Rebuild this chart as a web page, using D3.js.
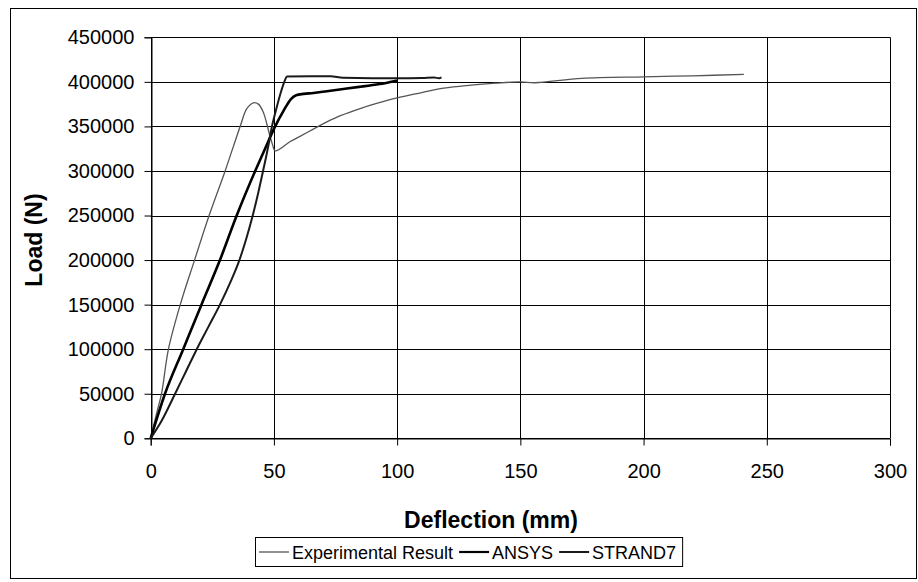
<!DOCTYPE html>
<html><head><meta charset="utf-8">
<script src="https://cdn.jsdelivr.net/npm/d3@7"></script>
<style>
html,body{margin:0;padding:0;background:#fff;}
svg{display:block;font-family:"Liberation Sans",Arial,sans-serif;}
</style></head>
<body><svg id="c" width="918" height="582"></svg>
<script>
// Data
const seriesNames = ["Experimental Result", "ANSYS", "STRAND7"];
const expDeflection = [0,2.4,4.4,7.2,12,17.8,23.7,30.2,36.3,39,41.7,43.7,45.7,47.1,48.5,49.5,50.5,56.6,60,66,71.5,77,85,92,100,110,117.5,127,140,150,156,175,200,220,240.7];
const expLoad = [0,28000,50000,100000,150000,200000,250000,300000,350000,370000,376500,375000,366000,353000,338000,329000,322500,333000,338000,347000,355000,362000,370000,376000,382000,388000,392500,395500,398500,400000,399000,404000,405700,406800,408400];
const ansysDeflection = [0,5.8,13.2,20.6,28.1,34.9,42.4,46.4,50.5,54,57,59,62,66,71.5,79.6,85,89,95,100.3];
const ansysLoad = [0,50000,100000,150000,200000,250000,300000,325000,350000,368000,381000,385000,386500,387500,389500,392500,394500,396000,398500,401500];
const strandDeflection = [0,4.5,9.9,14.3,18.7,23.4,28.1,32.3,36,38.9,41.4,43.6,45.6,47.5,49.2,51,53,54.5,55.3,65,73,78,90,100,110,115,117,118];
const strandLoad = [0,20000,50000,75000,100000,125000,150000,175000,200000,225000,250000,275000,300000,325000,350000,370000,390000,402000,406000,406300,406300,404500,404000,404000,404300,405000,404000,405000];
const xTicks = [0,50,100,150,200,250,300];
const yTicks = [0,50000,100000,150000,200000,250000,300000,350000,400000,450000];
const xTitle = "Deflection (mm)";
const yTitle = "Load (N)";

const svg = d3.select("#c");
const L = 150.7, R = 890, T = 37.3, B = 438.3;
const x = d3.scaleLinear().domain([0,300]).range([L,R]);
const y = d3.scaleLinear().domain([0,450000]).range([B,T]);

// outer border
svg.append("rect").attr("x",10.5).attr("y",8.5).attr("width",906).attr("height",570)
  .attr("fill","none").attr("stroke","#000").attr("stroke-width",1);

// gridlines
svg.append("g").selectAll("line").data(yTicks).join("line")
  .attr("x1",L).attr("x2",R).attr("y1",d=>Math.round(y(d))+0.5).attr("y2",d=>Math.round(y(d))+0.5)
  .attr("stroke","#000").attr("stroke-width",1);
svg.append("g").selectAll("line").data(xTicks).join("line")
  .attr("y1",T).attr("y2",B).attr("x1",d=>Math.round(x(d))+0.5).attr("x2",d=>Math.round(x(d))+0.5)
  .attr("stroke","#000").attr("stroke-width",1);

// axes
const yAxis = d3.axisLeft(y).tickValues(yTicks).tickSize(7).tickPadding(10).tickFormat(d3.format("d"));
const xAxis = d3.axisBottom(x).tickValues(xTicks).tickSize(7).tickPadding(18).tickFormat(d3.format("d"));
const gy = svg.append("g").attr("transform",`translate(${Math.round(L)+0.5},0)`).call(yAxis);
const gx = svg.append("g").attr("transform",`translate(0,${Math.round(B)+0.5})`).call(xAxis);
[gx,gy].forEach(g=>{
  g.select(".domain").attr("stroke","#000");
  g.selectAll(".tick line").attr("stroke","#000");
  g.selectAll("text").attr("font-size",20).attr("fill","#000").attr("font-family","Liberation Sans, Arial, sans-serif");
});

// titles
svg.append("text").attr("x",491).attr("y",528).attr("text-anchor","middle")
  .attr("font-size",23).attr("font-weight","bold").text(xTitle);
svg.append("text").attr("transform","translate(42,240) rotate(-90)").attr("text-anchor","middle")
  .attr("font-size",23).attr("font-weight","bold").text(yTitle);

// lines
const line = d3.line().x(d=>x(d[0])).y(d=>y(d[1])).curve(d3.curveMonotoneX);
const lineExp = d3.line().x(d=>x(d[0])).y(d=>y(d[1])).curve(d3.curveCatmullRom.alpha(0.5));
const series = [
  {name:seriesNames[0], xs:expDeflection, ys:expLoad, color:"#555", w:1.3, gen:lineExp},
  {name:seriesNames[1], xs:ansysDeflection, ys:ansysLoad, color:"#000", w:2.6, gen:line},
  {name:seriesNames[2], xs:strandDeflection, ys:strandLoad, color:"#1a1a1a", w:2, gen:line}
];
const plot = svg.append("g");
series.forEach(s=>{
  plot.append("path").datum(s.xs.map((v,i)=>[v,s.ys[i]]))
    .attr("d",s.gen).attr("fill","none").attr("stroke",s.color).attr("stroke-width",s.w)
    .attr("stroke-linejoin","round");
});

// legend
const lg = svg.append("g");
const lgBox = lg.append("rect").attr("y",537.5).attr("height",29).attr("fill","#fff").attr("stroke","#000");
let cx = 259;
series.forEach(s=>{
  lg.append("line").attr("x1",cx).attr("x2",cx+30).attr("y1",552).attr("y2",552)
    .attr("stroke",s.color).attr("stroke-width",Math.min(s.w,2.2));
  const t = lg.append("text").attr("x",cx+33).attr("y",558.5).attr("font-size",18).text(s.name);
  cx += 33 + t.node().getComputedTextLength() + 6;
});
lgBox.attr("x",255.5).attr("width",cx-255);
</script></body></html>
